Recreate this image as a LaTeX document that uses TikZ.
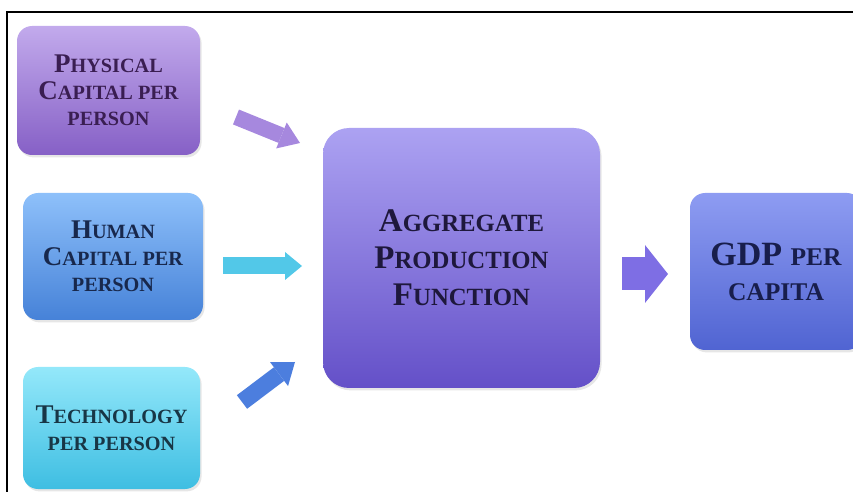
\documentclass[tikz,border=0pt]{standalone}
\usepackage{fontspec}
\setmainfont{Liberation Serif}
\usepackage{graphicx}
\usetikzlibrary{arrows.meta}
\usetikzlibrary{shadows}

\definecolor{physTop}{RGB}{194,170,236}
\definecolor{physBot}{RGB}{134,96,198}
\definecolor{physText}{RGB}{58,30,82}
\definecolor{humTop}{RGB}{142,192,250}
\definecolor{humBot}{RGB}{70,130,216}
\definecolor{humText}{RGB}{24,40,76}
\definecolor{techTop}{RGB}{148,232,250}
\definecolor{techBot}{RGB}{62,190,226}
\definecolor{techText}{RGB}{24,54,70}
\definecolor{aggTop}{RGB}{172,162,242}
\definecolor{aggBot}{RGB}{100,80,200}
\definecolor{aggText}{RGB}{30,24,60}
\definecolor{gdpTop}{RGB}{142,156,242}
\definecolor{gdpBot}{RGB}{80,100,210}
\definecolor{gdpText}{RGB}{24,30,76}
\definecolor{physArrow}{RGB}{166,136,222}
\definecolor{humArrow}{RGB}{82,200,232}
\definecolor{techArrow}{RGB}{76,126,222}
\definecolor{outArrow}{RGB}{126,110,228}

\newcommand\lowcap[1]{\scalebox{0.75}{#1}}

\begin{document}
\begin{tikzpicture}[x = 0.5pt, y = -0.5pt, font=\bfseries]
	\tikzstyle{boxStyle} = [rounded corners = 7.5pt, inner sep = 0pt, align = center, drop shadow = {shadow xshift = 0.8pt, shadow yshift = -1.2pt, opacity = 0.2}]
	\tikzstyle{smallBox} = [boxStyle, font = \bfseries\fontsize{13.5}{13.3}\selectfont]
	\tikzstyle{bigBox} = [boxStyle, font = \bfseries\fontsize{16.5}{18.5}\selectfont]
	\tikzstyle{blockArrow} = [line width = 8pt]
	\useasboundingbox (0,0) rectangle (853,492);
	\clip (0,0) rectangle (853,492);
	\draw[line width = 1pt] (7,492) -- (7,12) -- (853,12);
	\node[smallBox, minimum width = 91.5pt, minimum height = 64.5pt, top color = physTop, bottom color = physBot, text = physText] (phys) at (108.5,90.5) {P\lowcap{HYSICAL}\\C\lowcap{APITAL PER}\\\lowcap{PERSON}};
	\node[smallBox, minimum width = 90pt, minimum height = 63.5pt, top color = humTop, bottom color = humBot, text = humText] (hum) at (113,256.5) {H\lowcap{UMAN}\\C\lowcap{APITAL PER}\\\lowcap{PERSON}};
	\node[smallBox, minimum width = 88.5pt, minimum height = 61pt, top color = techTop, bottom color = techBot, text = techText] (tech) at (111.5,428) {T\lowcap{ECHNOLOGY}\\\lowcap{PER PERSON}};
	\node[bigBox, rounded corners = 13pt, minimum width = 138.5pt, minimum height = 130pt, top color = aggTop, bottom color = aggBot, text = aggText] (agg) at (461.5,258) {A\lowcap{GGREGATE}\\P\lowcap{RODUCTION}\\F\lowcap{UNCTION}};
	\node[bigBox, font = \bfseries\fontsize{17}{17.5}\selectfont, minimum width = 86pt, minimum height = 78.5pt, top color = gdpTop, bottom color = gdpBot, text = gdpText] (gdp) at (776,271.5) {GDP \lowcap{PER}\\\lowcap{CAPITA}};
	\coordinate (physTail) at (236,117);
	\coordinate (physTip) at (300,143);
	\coordinate (humTail) at (223,266);
	\coordinate (humTip) at (302,266);
	\coordinate (techTail) at (242,402);
	\coordinate (techTip) at (295,362);
	\coordinate (outTail) at (622,274);
	\coordinate (outTip) at (668,274);
	\draw[blockArrow, physArrow, -{Triangle[length = 10pt, width = 14pt, line width = 0pt]}] (physTail) -- (physTip);
	\draw[blockArrow, humArrow, line width = 8.5pt, -{Triangle[length = 8.5pt, width = 14pt, line width = 0pt]}] (humTail) -- (humTip);
	\draw[blockArrow, techArrow, line width = 8.5pt, -{Triangle[length = 10pt, width = 15pt, line width = 0pt]}] (techTail) -- (techTip);
	\draw[blockArrow, outArrow, line width = 16.5pt, -{Triangle[length = 11.5pt, width = 29pt, line width = 0pt]}] (outTail) -- (outTip);
\end{tikzpicture}
\end{document}
